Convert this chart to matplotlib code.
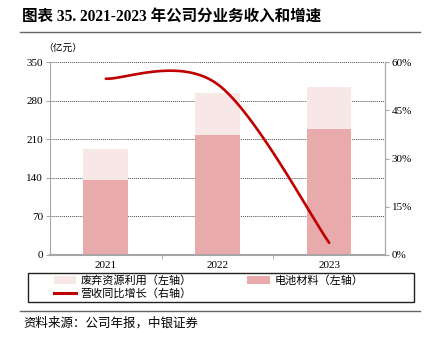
import numpy as np
import matplotlib
matplotlib.use("Agg")
import matplotlib.pyplot as plt
from matplotlib.patches import Patch, Rectangle
from matplotlib.lines import Line2D

plt.rcParams["font.family"] = ["Liberation Serif", "Noto Sans CJK SC"]

years        = ["2021", "2022", "2023"]
battery      = [136, 218, 229]      # 电池材料
waste        = [56, 76, 76]         # 废弃资源利用
growth       = [54.8, 53.1, 3.8]    # 营收同比增长 (%)

c_battery = "#E8AAAA"
c_waste   = "#F8E7E7"
c_line    = "#C00000"
grey      = "#A6A6A6"
W, H      = 427, 349


def excel_smooth(xs, ys, n=60):
    # cubic bezier through the points, excel-like tangents
    p = np.column_stack([xs, ys]).astype(float)
    out = []
    for i in range(len(p) - 1):
        p0, p1 = p[i], p[i + 1]
        prev = p[i - 1] if i > 0 else p[i]
        nxt  = p[i + 2] if i + 2 < len(p) else p[i + 1]
        c1 = p0 + (p1 - prev) / 6
        c2 = p1 - (nxt - p0) / 6
        t = np.linspace(0, 1, n)[:, None]
        seg = ((1 - t) ** 3) * p0 + 3 * ((1 - t) ** 2) * t * c1 \
            + 3 * (1 - t) * t ** 2 * c2 + t ** 3 * p1
        out.append(seg if i == 0 else seg[1:])
    out = np.vstack(out)
    return out[:, 0], out[:, 1]


fig = plt.figure(figsize=(W / 100, H / 100), dpi=100)
ax = fig.add_axes([50 / W, 1 - 255 / H, 335 / W, 193 / H])

x = np.arange(len(years))
ax.bar(x, battery, width=0.4, color=c_battery, zorder=2)
ax.bar(x, waste, width=0.4, bottom=battery, color=c_waste, zorder=2)

ax.set_xlim(-0.5, 2.5)
ax.set_ylim(0, 350)
ax.set_yticks(np.arange(0, 351, 70))
ax.yaxis.grid(True, linestyle=(0, (1, 1)), color="#4a4a4a", linewidth=0.7, zorder=0)
ax.set_xticks(x)
ax.set_xticklabels(years)
ax.set_xticks([0.5, 1.5], minor=True)
ax.tick_params(axis="x", which="major", length=0, labelsize=8, pad=4)
ax.tick_params(axis="x", which="minor", length=3, color=grey, direction="out")
ax.tick_params(axis="y", length=3, color=grey, labelsize=8, pad=2)
ax.spines["top"].set_visible(False)
ax.spines["left"].set_color(grey)
ax.spines["right"].set_color(grey)
ax.spines["bottom"].set_color(grey)
ax.spines["bottom"].set_linewidth(1.5)

ax2 = ax.twinx()
ax2.set_ylim(0, 60)
ax2.set_yticks(np.arange(0, 61, 15))
ax2.set_yticklabels([f"{v}%" for v in range(0, 61, 15)])
ax2.tick_params(axis="y", length=3, color=grey, labelsize=8, pad=2)
ax2.spines["top"].set_visible(False)
ax2.spines["right"].set_color(grey)
ax2.spines["left"].set_visible(False)
ax2.spines["bottom"].set_visible(False)

sx, sy = excel_smooth(x, growth)
ax2.plot(sx, sy, color=c_line, linewidth=1.9, solid_capstyle="round", zorder=3)

fig.text(43 / W, 1 - 48 / H, "（亿元）", fontsize=7, ha="left", va="center")

# title and rules
fig.text(22 / W, 1 - 18 / H, "图表 35. 2021-2023 年公司分业务收入和增速",
         fontsize=11.2, fontweight="bold", ha="left", va="center")
fig.add_artist(Line2D([20 / W, 420 / W], [1 - 31.5 / H] * 2, color="#666666", linewidth=1))
fig.add_artist(Line2D([20 / W, 420 / W], [1 - 311 / H] * 2, color="#666666", linewidth=1))
fig.text(23 / W, 1 - 323 / H, "资料来源：公司年报，中银证券", fontsize=9,
         ha="left", va="center", style="italic")

# legend box drawn by hand, entries placed inside
fig.add_artist(Rectangle((28 / W, 1 - 302 / H), 386 / W, 29 / H,
                         transform=fig.transFigure, fill=False,
                         edgecolor="#222222", linewidth=1))
handles = [
    Patch(facecolor=c_waste, label="废弃资源利用（左轴）"),
    Line2D([], [], color=c_line, linewidth=2.2, label="营收同比增长（右轴）"),
    Patch(facecolor=c_battery, label="电池材料（左轴）"),
]
fig.legend(handles=handles, ncol=2, loc="upper left",
           bbox_to_anchor=(54 / W, 1 - 275 / H),
           fontsize=8, frameon=False, borderpad=0, borderaxespad=0,
           handlelength=2.0, handleheight=0.7, labelspacing=0.2,
           columnspacing=5.0, handletextpad=0.4)

fig.savefig("out.png", dpi=100)
